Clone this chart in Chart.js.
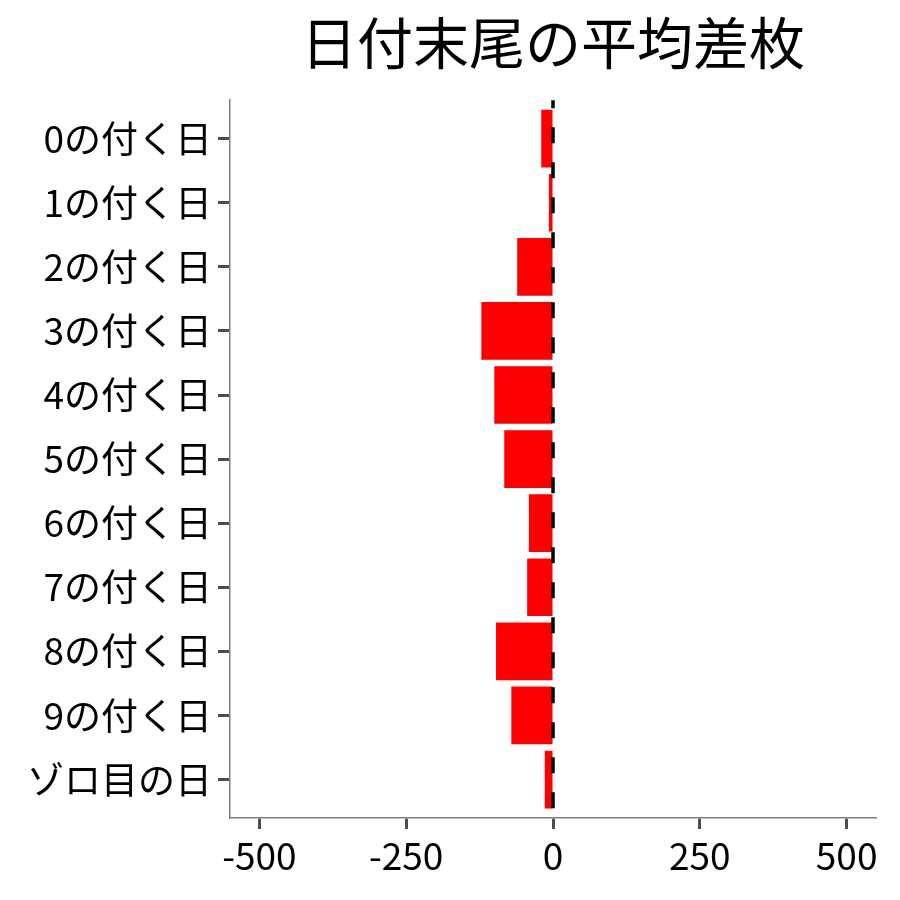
<!DOCTYPE html>
<html lang="ja">
<head>
<meta charset="utf-8">
<title>日付末尾の平均差枚</title>
<script src="https://cdn.jsdelivr.net/npm/chart.js@4/dist/chart.umd.min.js"></script>
<style>
  html, body { margin: 0; padding: 0; background: #fff; }
  #wrap { width: 900px; height: 900px; }
</style>
</head>
<body>
<div id="wrap"><canvas id="chart" width="900" height="900"></canvas></div>
<script>
  // カテゴリ（上から順）
  const categories = [
    '0の付く日', '1の付く日', '2の付く日', '3の付く日', '4の付く日',
    '5の付く日', '6の付く日', '7の付く日', '8の付く日', '9の付く日', 'ゾロ目の日'
  ];
  // 平均差枚
  const avgDiff = [-20, -7, -61, -122, -100, -83, -41, -44, -97, -71, -14];
  // X軸の目盛り
  const xTicks = [-500, -250, 0, 250, 500];
  const xRange = [-550, 550];
  // 基準線（破線）
  const refValue = 0;

  const FONT = "'Noto Sans CJK JP', 'Noto Sans', sans-serif";

  // 0 の位置に縦の破線
  const refLinePlugin = {
    id: 'refLine',
    afterDatasetsDraw(chart) {
      const { ctx, chartArea, scales } = chart;
      const x = scales.x.getPixelForValue(refValue);
      ctx.save();
      ctx.strokeStyle = '#000';
      ctx.lineWidth = 3.5;
      ctx.setLineDash([16, 19]);
      ctx.lineDashOffset = 8;
      ctx.beginPath();
      ctx.moveTo(x, chartArea.top);
      ctx.lineTo(x, chartArea.bottom);
      ctx.stroke();
      ctx.restore();
    }
  };

  const points = categories.map((c, i) => ({ x: avgDiff[i], y: i }));

  new Chart(document.getElementById('chart').getContext('2d'), {
    type: 'bar',
    data: {
      datasets: [{
        label: '平均差枚',
        data: points,
        backgroundColor: '#FF0000',
        borderWidth: 0,
        barPercentage: 0.9,
        categoryPercentage: 1.0
      }]
    },
    options: {
      indexAxis: 'y',
      responsive: false,
      devicePixelRatio: 1,
      animation: false,
      layout: { padding: { left: 0, right: 24, top: 0, bottom: 0 } },
      plugins: {
        legend: { display: false },
        tooltip: { enabled: false },
        title: {
          display: true,
          fullSize: false,
          text: '日付末尾の平均差枚',
          color: '#000',
          font: { family: FONT, size: 56, weight: 'normal' },
          padding: { top: 9, bottom: 24 }
        }
      },
      scales: {
        x: {
          type: 'linear',
          min: xRange[0],
          max: xRange[1],
          afterBuildTicks: s => { s.ticks = xTicks.map(v => ({ value: v })); },
          afterFit: s => { s.height = 82; s.paddingLeft = 0; s.paddingRight = 0; },
          grid: {
            drawOnChartArea: false,
            drawTicks: true,
            tickLength: 11,
            tickWidth: 3,
            tickColor: '#4d4d4d'
          },
          border: { display: true, color: '#808080', width: 1.5 },
          ticks: {
            color: '#000',
            padding: 5,
            maxRotation: 0,
            autoSkip: false,
            font: { family: FONT, size: 37 }
          }
        },
        y: {
          type: 'linear',
          offset: false,
          min: -0.6,
          max: categories.length - 0.4,
          reverse: true,
          afterBuildTicks: s => { s.ticks = categories.map((c, i) => ({ value: i })); },
          afterFit: s => { s.width = 230; s.paddingTop = 0; s.paddingBottom = 0; },
          grid: {
            offset: false,
            drawOnChartArea: false,
            drawTicks: true,
            tickLength: 12,
            tickWidth: 3,
            tickColor: '#4d4d4d'
          },
          border: { display: true, color: '#808080', width: 1.5 },
          ticks: {
            color: '#000',
            padding: 6,
            autoSkip: false,
            font: { family: FONT, size: 37 },
            callback: v => categories[v] ?? ''
          }
        }
      }
    },
    plugins: [refLinePlugin]
  });
</script>
</body>
</html>
